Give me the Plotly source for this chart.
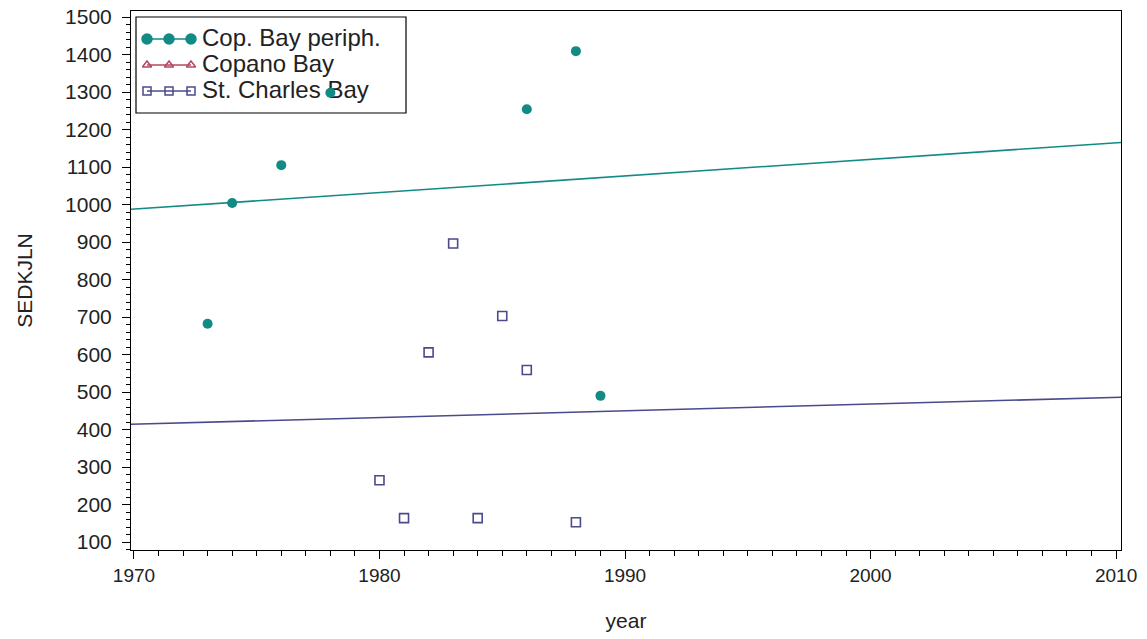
import numpy as np
import plotly.graph_objects as go

# ---- data ----
periph_year = [1973, 1974, 1976, 1978, 1986, 1988, 1989]
periph_val = [682, 1004, 1105, 1298, 1254, 1409, 490]

stcharles_year = [1980, 1981, 1982, 1983, 1984, 1985, 1986, 1988]
stcharles_val = [265, 164, 606, 896, 164, 703, 559, 153]

series_names = ["Cop. Bay periph.", "Copano Bay", "St. Charles Bay"]
series_colors = ["#128a86", "#b5485f", "#4a4a8c"]
series_symbols = ["circle", "triangle-up-open", "square-open"]

x_range = [1969.88, 2010.2]
y_range = [79, 1516]
x_ticks = [1970, 1980, 1990, 2000, 2010]
y_ticks = list(range(100, 1501, 100))

FONT = "Liberation Sans, Arial, sans-serif"

W, H = 1147, 639
ML, MR, MT, MB = 131, 26, 11, 89
PW, PH = W - ML - MR, H - MT - MB


def px_x(px):
    return x_range[0] + (px - ML) / PW * (x_range[1] - x_range[0])


def px_y(py):
    return y_range[1] - (py - MT) / PH * (y_range[1] - y_range[0])


fig = go.Figure()

# ---- hand-drawn legend (drawn first so data marks sit on top) ----
row_y = [39, 65, 91]
for name, col, sym, ry in zip(series_names, series_colors, series_symbols, row_y):
    fig.add_trace(go.Scatter(
        x=[px_x(147), px_x(169), px_x(191)], y=[px_y(ry)] * 3,
        mode="lines+markers", line=dict(color=col, width=1.6),
        marker=dict(symbol=sym, size=10 if sym == "circle" else 8, color=col,
                    line=dict(width=1.5, color=col)),
        showlegend=False, hoverinfo="skip"))
    fig.add_trace(go.Scatter(
        x=[px_x(202)], y=[px_y(ry + 1)], mode="text", text=[name],
        textposition="middle right",
        textfont=dict(family=FONT, size=24, color="#222"),
        showlegend=False, hoverinfo="skip"))

fig.add_shape(type="rect", xref="paper", yref="paper", layer="below",
              x0=(136 - ML) / PW, x1=(406 - ML) / PW,
              y0=1 - (113 - MT) / PH, y1=1 - (17 - MT) / PH,
              line=dict(color="#000", width=1.2), fillcolor="rgba(0,0,0,0)")

# regression lines (fitted from the data)
for xs, ys, col in [(periph_year, periph_val, series_colors[0]),
                    (stcharles_year, stcharles_val, series_colors[2])]:
    b, a = np.polyfit(xs, ys, 1)
    lx = np.array(x_range)
    fig.add_trace(go.Scatter(x=lx, y=a + b * lx, mode="lines",
                             line=dict(color=col, width=1.6),
                             showlegend=False, hoverinfo="skip"))

# data points
fig.add_trace(go.Scatter(x=periph_year, y=periph_val, mode="markers",
                         name=series_names[0],
                         marker=dict(symbol="circle", size=10, color=series_colors[0]),
                         showlegend=False))
fig.add_trace(go.Scatter(x=stcharles_year, y=stcharles_val, mode="markers",
                         name=series_names[2],
                         marker=dict(symbol="square-open", size=9, color=series_colors[2],
                                     line=dict(width=1.6, color=series_colors[2])),
                         showlegend=False))

axis_common = dict(
    showline=True, linecolor="#000", linewidth=1, mirror=True,
    ticks="outside", ticklen=8, tickcolor="#000", tickwidth=1,
    showgrid=False, zeroline=False, automargin=False,
    title_font=dict(family=FONT, size=21, color="#222"),
)

fig.update_xaxes(range=x_range, tickvals=x_ticks,
                 tickfont=dict(family=FONT, size=19, color="#222"),
                 minor=dict(dtick=1, tick0=1970, ticks="outside", ticklen=5,
                            tickcolor="#000", showgrid=False),
                 title_text="year", title_standoff=28, **axis_common)
fig.update_yaxes(range=y_range, tickvals=y_ticks,
                 tickfont=dict(family=FONT, size=21, color="#222"),
                 minor=dict(dtick=20, tick0=100, ticks="outside", ticklen=4,
                            tickcolor="#000", showgrid=False),
                 title_text="SEDKJLN", title_standoff=26,
                 ticklabelstandoff=6, **axis_common)

fig.update_layout(
    width=W, height=H,
    margin=dict(l=ML, r=MR, t=MT, b=MB, autoexpand=False),
    paper_bgcolor="white", plot_bgcolor="white",
    font=dict(family=FONT, color="#222"),
    showlegend=False,
)

fig.write_html("out.html", config={"displayModeBar": False},
               post_script="document.body.style.margin='0';document.body.style.overflow='hidden';")
